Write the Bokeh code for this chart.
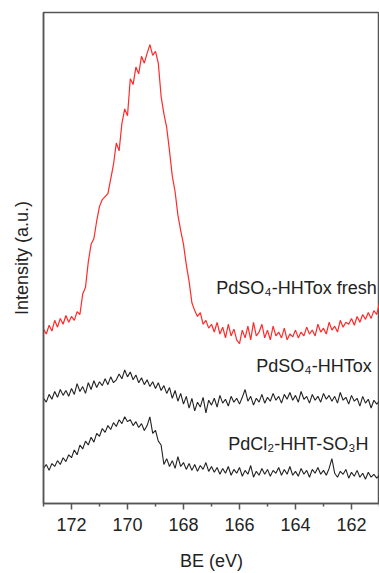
from bokeh.plotting import figure
from bokeh.models import Range1d, FixedTicker, Label
from bokeh.embed import file_html
from bokeh.resources import INLINE

# Binding energy grid (eV), 173.0 -> 161.0 in 0.1 eV steps
be = [round(173.0 - 0.1 * i, 1) for i in range(121)]

# Intensities (arbitrary units, offsets included)
fresh = [179, 174, 183, 177, 188, 181, 190, 184, 193, 186,
         192, 188, 197, 194, 215, 222, 248, 266, 272, 290,
         305, 312, 315, 318, 333, 348, 370, 362, 390, 405,
         398, 436, 430, 448, 441, 459, 452, 462, 471, 460,
         464, 452, 418, 400, 386, 362, 336, 320, 296, 280,
         266, 245, 228, 206, 198, 192, 196, 184, 188, 180,
         184, 176, 186, 174, 181, 170, 184, 172, 179, 168,
         164, 178, 170, 182, 168, 186, 172, 176, 184, 170,
         178, 168, 182, 172, 176, 170, 180, 168, 174, 171,
         178, 170, 176, 172, 181, 174, 178, 172, 184, 176,
         180, 174, 186, 178, 182, 176, 188, 181, 186, 184,
         190, 183, 192, 186, 194, 189, 196, 190, 198, 194,
         206]

hhtox = [108, 104, 112, 107, 115, 109, 117, 111, 116, 110,
         118, 112, 123, 115, 120, 113, 124, 117, 126, 119,
         125, 121, 128, 122, 130, 124, 127, 133, 128, 137,
         130, 135, 127, 132, 124, 129, 122, 127, 120, 125,
         118, 124, 116, 121, 113, 119, 108, 116, 105, 113,
         102, 110, 98, 108, 95, 104, 99, 109, 93, 106,
         101, 108, 99, 111, 103, 107, 100, 110, 104, 108,
         102, 109, 117, 105, 110, 101, 108, 104, 112, 103,
         109, 105, 113, 106, 110, 103, 112, 107, 114, 106,
         111, 104, 115, 107, 110, 103, 112, 106, 110, 104,
         113, 107, 111, 105, 110, 103, 114, 106, 109, 102,
         111, 105, 108, 100, 110, 103, 107, 98, 106, 102,
         105]

pdcl2 = [36, 40, 34, 41, 38, 44, 40, 47, 43, 50,
         47, 55, 50, 60, 56, 64, 60, 68, 63, 72,
         69, 77, 73, 80, 76, 83, 79, 86, 82, 89,
         84, 86, 80, 84, 78, 82, 75, 80, 89, 72,
         75, 64, 60, 40, 46, 38, 44, 36, 48, 38,
         42, 35, 41, 34, 40, 33, 39, 35, 42, 33,
         38, 32, 37, 30, 36, 31, 38, 29, 35, 31,
         37, 28, 34, 30, 39, 27, 33, 29, 36, 30,
         35, 28, 34, 31, 37, 29, 35, 30, 38, 29,
         33, 28, 36, 30, 34, 27, 35, 31, 37, 30,
         34, 29, 36, 46, 31, 27, 33, 30, 35, 26,
         32, 28, 34, 27, 31, 25, 32, 27, 30, 26,
         29]

labels = ["PdSO\u2084-HHTox fresh", "PdSO\u2084-HHTox", "PdCl\u2082-HHT-SO\u2083H"]
label_x = [161.1, 161.28, 161.39]
label_y = [221, 141, 61]

major_ticks = [172, 170, 168, 166, 164, 162]
minor_ticks = [173, 171, 169, 167, 165, 163, 161]

FONT = "Liberation Sans"
TXT = "#222222"
AX = "#555555"
FS = "18px"

p = figure(width=379, height=573, output_backend="svg", toolbar_location=None,
           x_range=Range1d(173, 161), y_range=Range1d(0, 504),
           min_border_left=43, min_border_right=0, min_border_top=12,
           min_border_bottom=57)

p.xgrid.visible = False
p.ygrid.visible = False
p.outline_line_color = AX
p.outline_line_width = 1.5
p.background_fill_color = "white"
p.border_fill_color = "white"

p.line(be, fresh, line_color="#ff2a2a", line_width=1.2)
p.line(be, hhtox, line_color="#222222", line_width=1.1)
p.line(be, pdcl2, line_color="#222222", line_width=1.1)

for t, x, y in zip(labels, label_x, label_y):
    p.add_layout(Label(x=x, y=y, text=t, text_align="right", text_baseline="middle",
                       text_font=FONT, text_font_size=FS, text_color=TXT))

xa = p.xaxis[0]
xa.ticker = FixedTicker(ticks=major_ticks, minor_ticks=minor_ticks)
xa.axis_label = "BE (eV)"
xa.axis_label_text_font = FONT
xa.axis_label_text_font_size = FS
xa.axis_label_text_font_style = "normal"
xa.axis_label_text_color = TXT
xa.axis_label_standoff = 17
xa.major_label_text_font = FONT
xa.major_label_text_font_size = FS
xa.major_label_text_color = TXT
xa.major_label_standoff = 8
xa.axis_line_color = AX
xa.axis_line_width = 1.5
xa.major_tick_line_color = AX
xa.major_tick_line_width = 1.5
xa.minor_tick_line_color = AX
xa.minor_tick_line_width = 1.5
xa.major_tick_in = 0
xa.major_tick_out = 6
xa.minor_tick_in = 0
xa.minor_tick_out = 3

ya = p.yaxis[0]
ya.ticker = FixedTicker(ticks=[])
ya.axis_label = "Intensity (a.u.)"
ya.axis_label_text_font = FONT
ya.axis_label_text_font_size = FS
ya.axis_label_text_font_style = "normal"
ya.axis_label_text_color = TXT
ya.axis_label_standoff = 12
ya.axis_line_color = AX
ya.axis_line_width = 1.5
ya.major_tick_in = 0
ya.major_tick_out = 0
ya.minor_tick_in = 0
ya.minor_tick_out = 0
ya.major_label_standoff = 0

open("out.html", "w").write(file_html(p, INLINE))
